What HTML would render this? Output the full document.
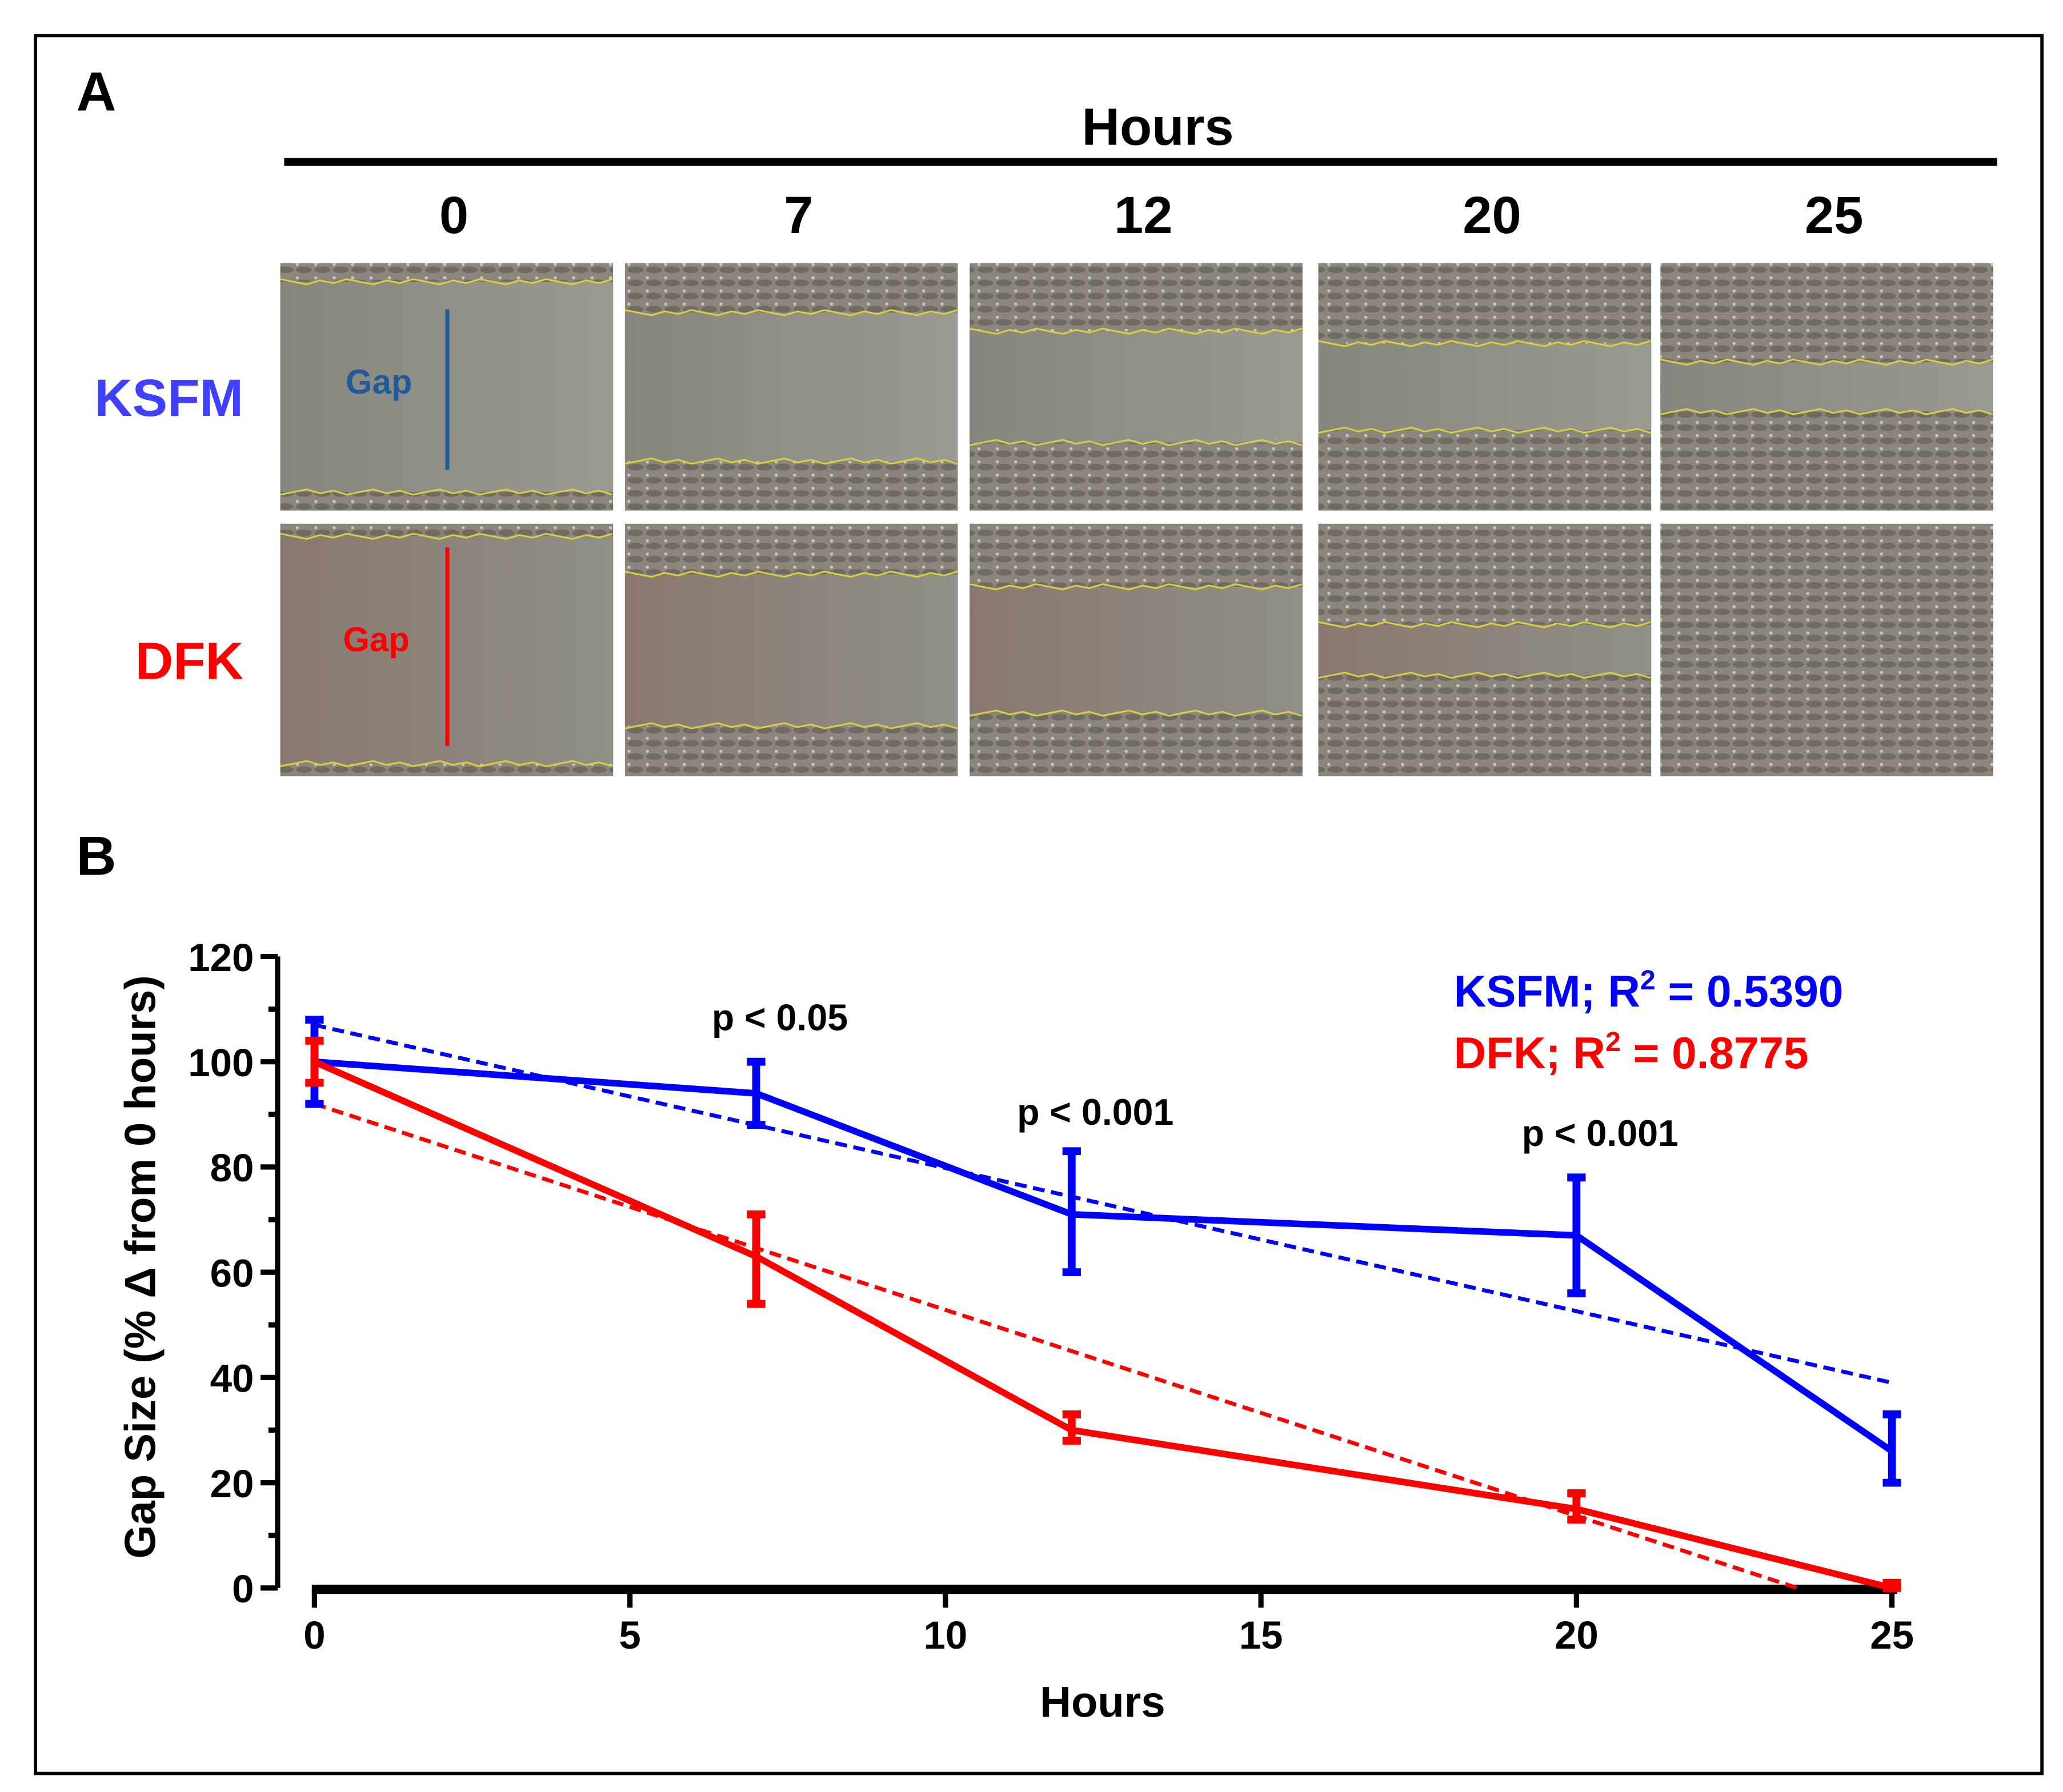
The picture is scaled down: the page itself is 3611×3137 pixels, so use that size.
<!DOCTYPE html>
<html><head><meta charset="utf-8"><style>
html,body{margin:0;padding:0;background:#fff}
svg{display:block}
text{font-family:"Liberation Sans",sans-serif;font-weight:bold}
</style></head><body>
<svg id="fig" width="3611" height="3137" viewBox="0 0 1568 1362" xmlns="http://www.w3.org/2000/svg">
<defs>
<linearGradient id="gGray" x1="0" x2="1"><stop offset="0" stop-color="#86867f"/><stop offset="1" stop-color="#9a9a92"/></linearGradient>
<linearGradient id="gBrown" x1="0" x2="1"><stop offset="0" stop-color="#8a7870"/><stop offset="1" stop-color="#8f9088"/></linearGradient>
<pattern id="cells" width="14" height="10" patternUnits="userSpaceOnUse"><rect width="14" height="10" fill="#8c857c"/><ellipse cx="7" cy="5" rx="6" ry="2.5" fill="#6f6a64"/><circle cx="2" cy="1" r="1.2" fill="#c8c8c0"/></pattern>
</defs>
<rect x="27" y="27" width="1525" height="1321" fill="none" stroke="#000" stroke-width="2.5"/>
<text x="58" y="84" font-size="42">A</text>
<text x="880" y="110" font-size="40" text-anchor="middle">Hours</text>
<rect x="216" y="120" width="1302" height="6" fill="#000"/>
<g id="panels"></g>
<text x="185" y="316" font-size="40" fill="#4040ff" text-anchor="end">KSFM</text>
<text x="185" y="516" font-size="40" fill="#ff0000" text-anchor="end">DFK</text>

<text x="58" y="665" font-size="42">B</text>
<g id="chart"></g>
<text transform="translate(118,963) rotate(-90)" font-size="33" text-anchor="middle">Gap Size (% Δ from 0 hours)</text>
<text x="838" y="1305" font-size="33" text-anchor="middle">Hours</text>
<text x="1105" y="765" font-size="34" fill="#0000ff">KSFM; R<tspan dy="-13" font-size="21">2</tspan><tspan dy="13"> = 0.5390</tspan></text>
<text x="1105" y="812" font-size="34" fill="#ff0000">DFK; R<tspan dy="-13" font-size="21">2</tspan><tspan dy="13"> = 0.8775</tspan></text>
</svg>
<script>
const NS='http://www.w3.org/2000/svg';
function mk(tag,attrs,parent,txt){const e=document.createElementNS(NS,tag);for(const k in attrs)e.setAttribute(k,attrs[k]);if(txt!=null)e.textContent=txt;parent.appendChild(e);return e;}
// ---- panel A micrographs ----
const hoursCols=['0','7','12','20','25'];
const colX=[213,475,737,1002,1262];
const gapKSFM=[0.85,0.6,0.45,0.35,0.2];
const gapDFK=[0.9,0.6,0.5,0.2,0];
const P=document.getElementById('panels');
hoursCols.forEach((h,i)=>{
  const t=mk('text',{x:colX[i]+132,y:177,'font-size':40,'text-anchor':'middle'},P,h);
  
  
  [[200,188,gapKSFM[i]],[398,192,gapDFK[i]]].forEach((r,ri)=>{
    const g=mk('g',{},P);
    
    
    mk('rect',{x:colX[i],y:r[0],width:253,height:r[1],fill:'url(#cells)'},g);
    if(r[2]>0){
      const hh=r[1]*r[2],y0=r[0]+(r[1]-hh)/2;
      mk('rect',{x:colX[i],y:y0,width:253,height:hh,fill:ri?'url(#gBrown)':'url(#gGray)'},g);
      let d1='',d2='';
      for(let k=0;k<=25;k++){const x=colX[i]+k*10.1;const j=((k*7)%5)-2;d1+=(k?'L':'M')+x+','+(y0+j);d2+=(k?'L':'M')+x+','+(y0+hh-j);}
      mk('path',{d:d1,stroke:'#d8d040','stroke-width':1.3,fill:'none'},g);
      mk('path',{d:d2,stroke:'#d8d040','stroke-width':1.3,fill:'none'},g);
    }
  });
});
mk('line',{x1:340,y1:235,x2:340,y2:357,stroke:'#1f5a9a','stroke-width':3},P);
mk('line',{x1:340,y1:416,x2:340,y2:567,stroke:'#ff0000','stroke-width':3},P);
let gt=mk('text',{x:288,y:299,'font-size':26,fill:'#1f5a9a','text-anchor':'middle'},P,'Gap');


gt=mk('text',{x:286,y:495,'font-size':26,fill:'#ff0000','text-anchor':'middle'},P,'Gap');



// ---- panel B chart data ----
const hours=[0,7,12,20,25];
const ksfmMean=[100,94,71,67,26];
const ksfmLow=[92,88,60,56,20];
const ksfmHigh=[108,100,83,78,33];
const dfkMean=[100,63,30,15,0];
const dfkLow=[96,54,28,13,0];
const dfkHigh=[104,71,33,18,1];
const ksfmFit=[[0,107],[25,39]];
const dfkFit=[[0,92],[23.5,0]];
const xTicks=[0,5,10,15,20,25];
const yTicks=[0,20,40,60,80,100,120];
const pLabels=[{x:7,y:106,t:'p < 0.05'},{x:12,y:88,t:'p < 0.001'},{x:20,y:84,t:'p < 0.001'}];
const X=v=>239+v*(1438-239)/25;
const Y=v=>1207-v*(1207-727)/120;
const C=document.getElementById('chart');
let ax=mk('line',{x1:211,y1:727,x2:211,y2:1207,stroke:'#000','stroke-width':4},C);

ax=mk('line',{x1:237,y1:1208,x2:1442,y2:1208,stroke:'#000','stroke-width':7},C);

for(let v=0;v<=120;v+=10){mk('line',{x1:v%20?204:198,y1:Y(v),x2:211,y2:Y(v),stroke:'#000','stroke-width':4},C);}
yTicks.forEach(v=>{const t=mk('text',{x:193,y:Y(v)+11,'font-size':30,'text-anchor':'end'},C,v);
});
xTicks.forEach(v=>{mk('line',{x1:X(v),y1:1208,x2:X(v),y2:1222,stroke:'#000','stroke-width':4},C);
const t=mk('text',{x:X(v),y:1253,'font-size':30,'text-anchor':'middle'},C,v);
});
[[ksfmFit,'#0000ff','ksfm-fit-line'],[dfkFit,'#ff0000','dfk-fit-line']].forEach(f=>{
 const l=mk('line',{x1:X(f[0][0][0]),y1:Y(f[0][0][1]),x2:X(f[0][1][0]),y2:Y(f[0][1][1]),stroke:f[1],'stroke-width':3,'stroke-dasharray':'9 5'},C);
 });
[[ksfmMean,ksfmLow,ksfmHigh,'#0000ff','ksfm'],[dfkMean,dfkLow,dfkHigh,'#ff0000','dfk']].forEach(s=>{
 const pts=hours.map((h,i)=>X(h)+','+Y(s[0][i])).join(' ');
 const pl=mk('polyline',{points:pts,fill:'none',stroke:s[3],'stroke-width':5,'stroke-linejoin':'round'},C);
 
 hours.forEach((h,i)=>{
  const g=mk('g',{stroke:s[3],'stroke-width':6},C);
  
  mk('line',{x1:X(h),y1:Y(s[1][i]),x2:X(h),y2:Y(s[2][i])},g);
  mk('line',{x1:X(h)-7,y1:Y(s[1][i]),x2:X(h)+7,y2:Y(s[1][i])},g);
  mk('line',{x1:X(h)-7,y1:Y(s[2][i]),x2:X(h)+7,y2:Y(s[2][i])},g);
 });
});
pLabels.forEach(p=>{const t=mk('text',{x:X(p.x)+18,y:Y(p.y),'font-size':28,'text-anchor':'middle'},C,p.t);
});
</script>
</body></html>
